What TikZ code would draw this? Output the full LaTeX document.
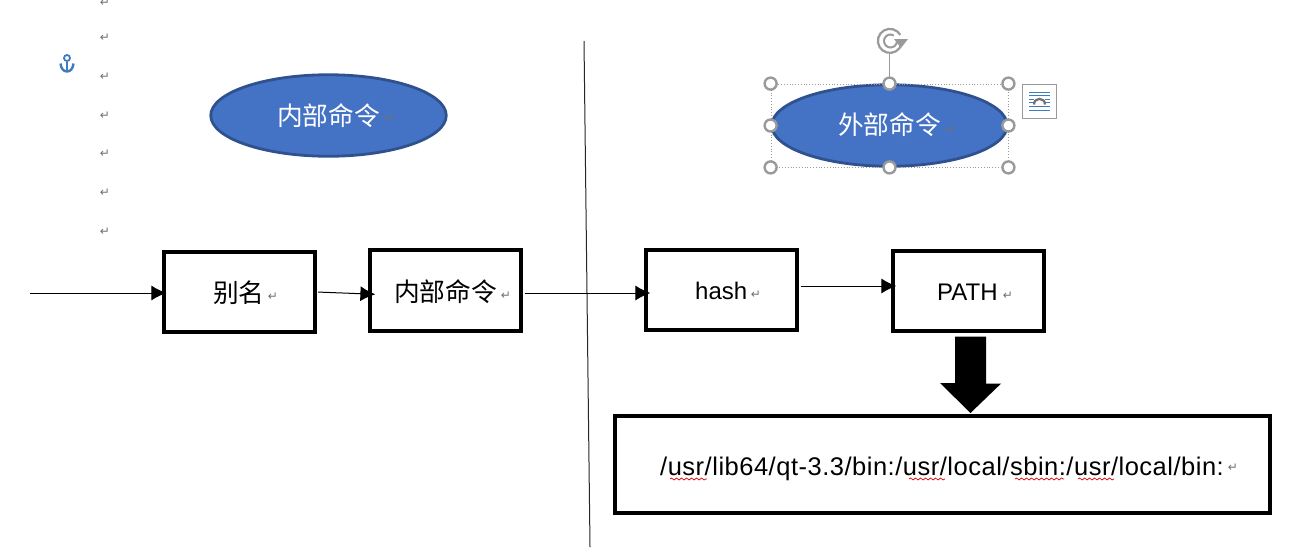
\documentclass[tikz,border=0pt]{standalone}
\usepackage{fontspec}
\setmainfont{Liberation Sans}
\newfontfamily\cjk{Noto Sans CJK SC}
\newfontfamily\dejavu{DejaVu Sans}
\newfontfamily\widesans[LetterSpace=2]{Liberation Sans}
\usetikzlibrary{arrows.meta,decorations.pathmorphing,calc,shapes.geometric}
\definecolor{fillblue}{HTML}{4472C4}
\definecolor{edgeblue}{HTML}{2F528F}
\definecolor{anchorblue}{HTML}{3F7CBF}
\definecolor{handlegray}{HTML}{9A9A9A}
\definecolor{markgray}{HTML}{707070}
\tikzset{
  x=1pt,y=-1pt,
  flowbox/.style={draw=black,line width=3.2pt,fill=white,inner sep=0pt},
  oval/.style={ellipse,draw=edgeblue,line width=2.8pt,fill=fillblue,inner sep=0pt},
  cjklabel/.style={font=\cjk\fontsize{25.7}{28}\selectfont,inner sep=0pt,anchor=base west},
  latinlabel/.style={font=\fontsize{24}{30}\selectfont,inner sep=0pt,anchor=base west},
  ret/.style={font=\dejavu\fontsize{12}{13}\selectfont,text=markgray,inner sep=0pt},
  flow/.style={line width=1pt,-{Latex[length=15pt,width=15pt]}},
  handle/.style={circle,draw=handlegray,line width=2.4pt,fill=white,minimum size=12pt,inner sep=0pt},
  squiggle/.style={draw=red!85!black,line width=0.7pt,decorate,decoration={snake,amplitude=1pt,segment length=5pt}}
}
\begin{document}
\begin{tikzpicture}
\useasboundingbox (0,0) rectangle (1295,547);
% paragraph marks
\foreach \i/\yy in {m0/3,m1/38,m2/77,m3/116,m4/154,m5/193,m6/232}
  \node[ret] (\i) at (105,\yy) {↵};
% anchor
\node[circle,draw=anchorblue,line width=1.8pt,minimum size=6pt,inner sep=0pt] (anc) at (67,58) {};
\draw[anchorblue,line width=1.8pt] (anc.south) -- (67,71);
\draw[anchorblue,line width=2.4pt] (60.5,63.5) .. controls (61,69) and (64,71.5) .. (67,71.5) .. controls (70,71.5) and (73,69) .. (73.5,63.5);
% divider
\coordinate (divtop) at (584,41);
\coordinate (divbot) at (590,547);
\draw[line width=1pt,black!85] (divtop) -- (divbot);
% ovals
\node[oval,minimum width=235.5pt,minimum height=81.5pt] (inner) at (328.5,115.5) {};
\node[oval,minimum width=235.5pt,minimum height=81.5pt] (outer) at (889.5,125.5) {};
\node[cjklabel,text=white] (innert) at (277,125) {内部命令};
\node[ret] at (390,119) {↵};
\node[cjklabel,text=white] (outert) at (838,134) {外部命令};
\node[ret] at (951,130) {↵};
% selection frame
\node[draw=handlegray,dotted,line width=0.8pt,minimum width=237pt,minimum height=83pt,inner sep=0pt] (sel) at (889.5,125.5) {};
\draw[handlegray,line width=1.2pt] (889.5,54) -- (sel.north);
% rotate handle
\draw[handlegray,line width=2.2pt] (901.5,44) arc[start angle=15,end angle=330,radius=12];
\draw[handlegray,line width=2pt] (897,41) arc[start angle=0,end angle=300,radius=6.5];
\fill[handlegray] (894,39) -- (908,39) -- (901,48) -- cycle;
\foreach \a in {north west,north,north east,west,east,south west,south,south east}
  \node[handle] at (sel.\a) {};
% wrap icon
\node[draw=handlegray,line width=1pt,fill=white,minimum size=34pt,inner sep=0pt] (wrap) at (1039.5,101.5) {};
\foreach \yy/\xl/\xr in {92/1029/1050,95.5/1029/1050,99/1029/1034,102.5/1029/1034,106/1029/1050,110/1029/1050}
  \draw[anchorblue,line width=0.8pt] (\xl,\yy) -- (\xr,\yy);
\foreach \yy in {99,102.5}
  \draw[anchorblue,line width=0.8pt] (1045,\yy) -- (1050,\yy);
\draw[markgray,line width=2.2pt] (1034,104.5) .. controls (1034,97) and (1045,97) .. (1045,104.5);
% boxes
\node[flowbox,minimum width=151pt,minimum height=80pt] (alias) at (239.5,292) {};
\node[flowbox,minimum width=151pt,minimum height=81pt] (builtin) at (445.5,290.5) {};
\node[flowbox,minimum width=151pt,minimum height=80pt] (hash) at (721.5,290) {};
\node[flowbox,minimum width=151pt,minimum height=80pt] (path) at (968.5,291) {};
\node[flowbox,minimum width=655pt,minimum height=97pt] (dirs) at (942.5,464.5) {};
\node[cjklabel] at (213,302) {别名};
\node[ret] at (273,297) {↵};
\node[cjklabel] at (394,301) {内部命令};
\node[ret] at (506,296) {↵};
\node[latinlabel] at (695,299) {hash};
\node[ret] at (756,295) {↵};
\node[latinlabel] at (937,300) {PATH};
\node[ret] at (1008,296) {↵};
\node[inner sep=0pt,anchor=base west,font=\widesans\fontsize{25.5}{30}\selectfont] (dirst) at (660,475) {/usr/lib64/qt-3.3/bin:/usr/local/sbin:/usr/local/bin:};
\node[ret] at (1233,468) {↵};
% spelling marks
\draw[squiggle] (670,479) -- (707,479);
\draw[squiggle] (909,479) -- (945,479);
\draw[squiggle] (1015,479) -- (1064,479);
\draw[squiggle] (1078,479) -- (1114,479);
% connectors
\coordinate (start) at (30,293);
\draw[flow,shorten >=-4pt] (start) -- (alias.west |- start);
\draw[flow,shorten <=1.5pt,shorten >=-7pt] (alias.east) -- ([yshift=-3.5pt]builtin.west);
\draw[flow,shorten <=2pt,shorten >=-6pt] (builtin.east |- 0,293) -- (hash.west |- 0,293);
\draw[flow,shorten <=2pt,shorten >=-5pt] (hash.east |- 0,286) -- (path.west |- 0,286);
% block arrow
\fill[black] ($(path.south)+(-13.5,4)$) -- ++(31,0) -- ++(0,47) -- ++(15,0) -- (970.5,413) -- (940,383) -- (955,383) -- cycle;
\end{tikzpicture}
\end{document}
